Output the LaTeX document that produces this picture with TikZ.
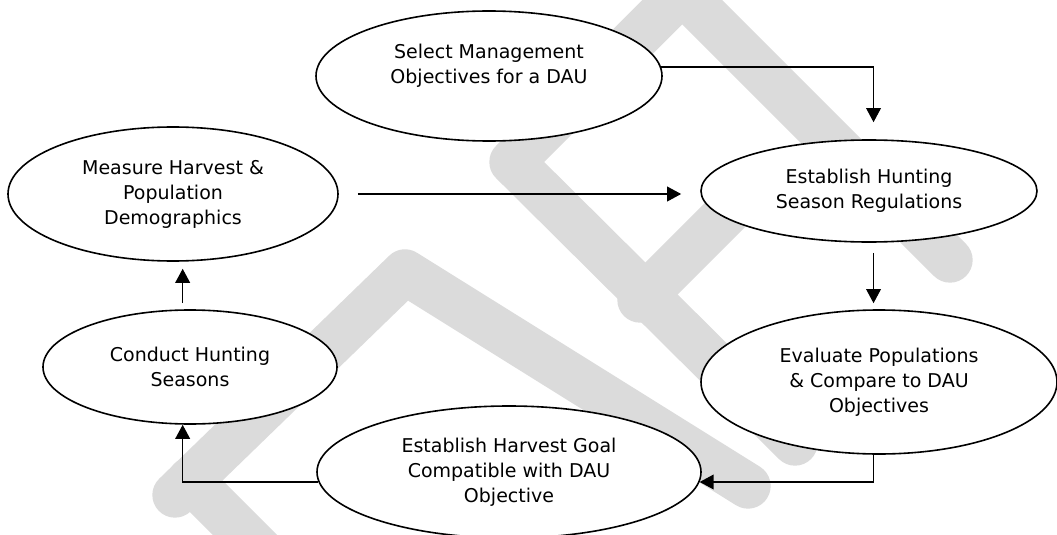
\documentclass[tikz,border=0pt]{standalone}
\usepackage{fontspec}
\setmainfont{DejaVu Sans}
\usetikzlibrary{arrows.meta,shapes.geometric}
\tikzset{
  stage/.style={ellipse, draw=black, line width=1.2pt, fill=white, align=center,
    inner sep=0pt, font=\fontsize{14.25pt}{18.75pt}\selectfont},
  arr/.style={-{Triangle[length=10.5pt,width=11pt]}, line width=1.1pt},
  thinarr/.style={arr, line width=0.8pt},
  wmark/.style={draw=black!14, line width=34pt, line cap=round, line join=round}
}

\begin{document}
\begin{tikzpicture}[x=0.75pt, y=-0.75pt]
  \useasboundingbox (0,0) rectangle (1057,535);
  \fill[white] (0,0) rectangle (1057,535);

  % DRAFT watermark behind everything
  \begin{scope}
    \clip (0,0) rectangle (1057,535);
    \draw[wmark] (175,495) -- (405,272) -- (748,486);
    \draw[wmark] (190,480) -- (280,570);
    \draw[wmark] (790,-115) -- (512,162) -- (795,443);
    \draw[wmark] (665,-25) -- (950,260);
    \draw[wmark] (640,300) -- (735,205);
  \end{scope}

  \node[stage, minimum width=259.5pt, minimum height=97.5pt] (sel) at (489,76) {Select Management\\Objectives for a DAU\\\mbox{}};
  \node[stage, minimum width=247.5pt, minimum height=100.5pt] (meas) at (173,194) {Measure Harvest \&\\Population\\Demographics};
  \node[stage, minimum width=252pt, minimum height=76.5pt] (regs) at (869,191) {Establish Hunting\\Season Regulations};
  \node[stage, minimum width=267pt, minimum height=108pt] (eval) at (879,382) {Evaluate Populations\\\& Compare to DAU\\Objectives};
  \node[stage, minimum width=220.5pt, minimum height=85.5pt] (cond) at (190,367) {Conduct Hunting\\Seasons};
  \node[stage, minimum width=288pt, minimum height=99pt] (harv) at (509,472) {Establish Harvest Goal\\Compatible with DAU\\Objective};

  \draw[thinarr, shorten >=12.75pt] (sel.3) -| ([xshift=3.4pt]regs.north);
  \draw[arr, shorten <=14.25pt, shorten >=14.25pt] (meas.east) -- (meas.east -| regs.west);
  \draw[thinarr, shorten <=7.5pt, shorten >=4.5pt] ([xshift=3.4pt]regs.south) -- ([xshift=3.4pt]regs.south |- eval.north);
  \draw[arr] ([xshift=-4.1pt]eval.south) |- (harv.-3);
  \draw[arr] (harv.183) -| ([xshift=-5.5pt]cond.south);
  \draw[arr, shorten <=4.5pt, shorten >=5.25pt] ([xshift=-5.5pt]cond.north) -- ([xshift=-5.5pt]cond.north |- meas.south);
\end{tikzpicture}
\end{document}
